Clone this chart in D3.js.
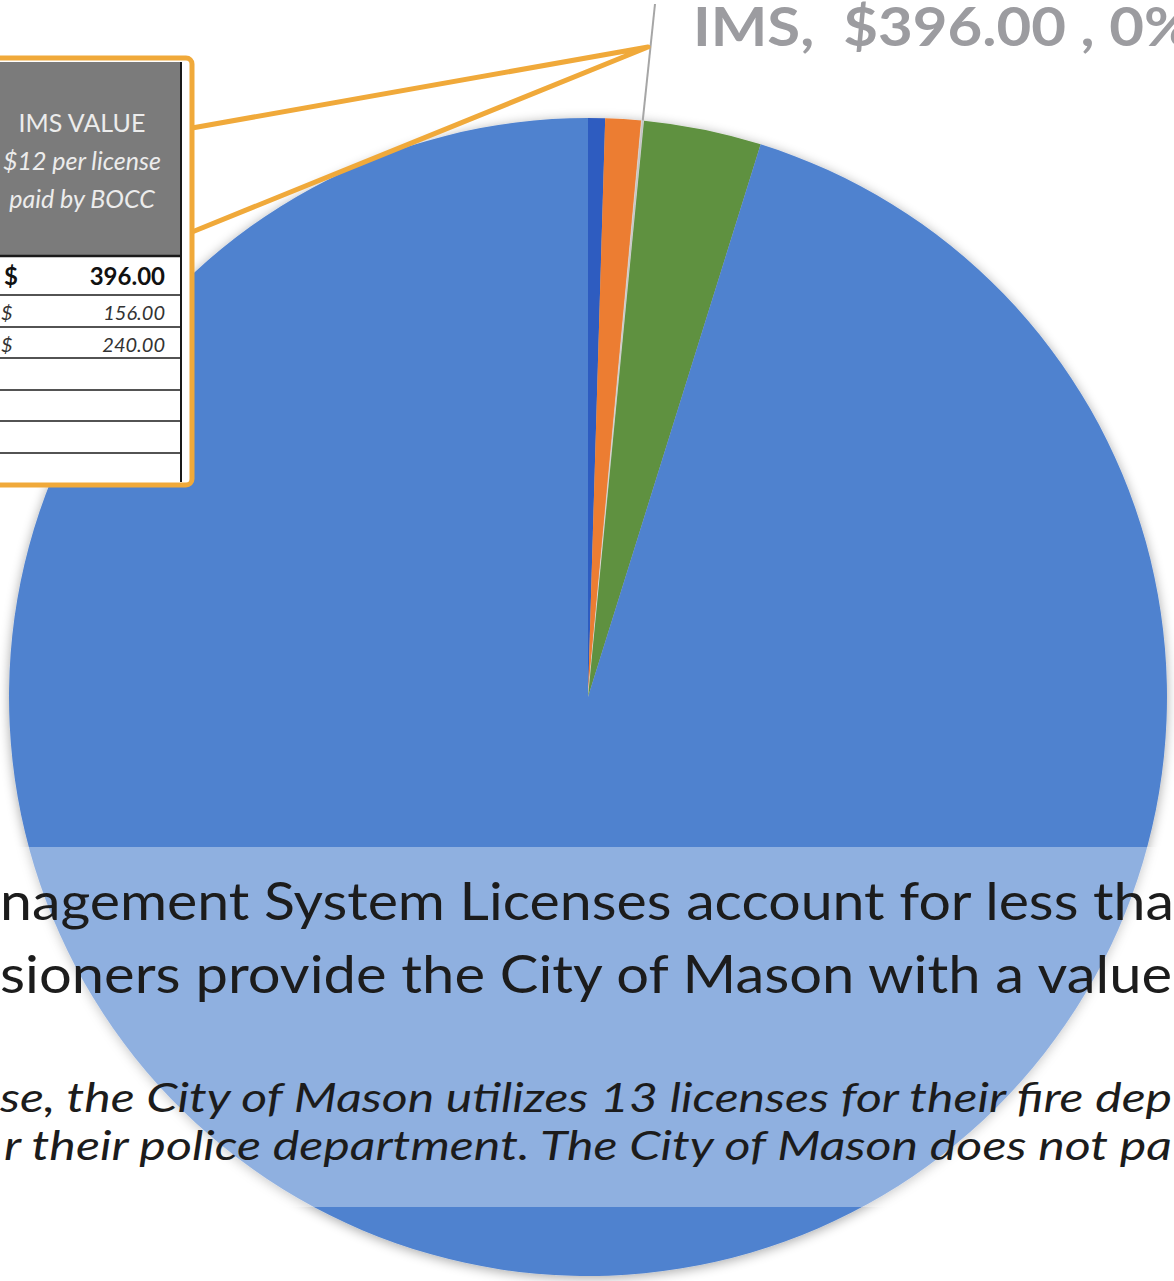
<!DOCTYPE html>
<html>
<head>
<meta charset="utf-8">
<script src="https://cdn.jsdelivr.net/npm/d3@7"></script>
<style>
  html, body { margin: 0; padding: 0; background: #ffffff; overflow: hidden; }
  svg { display: block; }
</style>
</head>
<body>
<div id="chartContainer"></div>
<script>
// pie slices, clockwise from 12 o'clock
const sliceNames = ["Slice A", "Slice B", "IMS", "Slice C", "Slice D"];
const sliceValues = [2700, 5700, 396, 18700, 543000];
const sliceColors = ["#2f5cc0", "#ec7d30", "#c4c4c4", "#5e9140", "#5082cf"];

// callout label for the IMS slice
const imsLabel = "IMS,  $396.00 , 0%";

// table inside the orange callout
const tableHeader = ["IMS VALUE", "$12 per license", "paid by BOCC"];
const tableDollar = ["$", "$", "$", "", "", ""];
const tableAmounts = ["396.00", "156.00", "240.00", "", "", ""];

// text on the band at the bottom
const bandLines = [
  "nagement System Licenses account for less tha",
  "sioners provide the City of Mason with a value"
];
const bandItalicLines = [
  "se, the City of Mason utilizes 13 licenses for their fire dep",
  "r their police department. The City of Mason does not pa"
];

const W = 1174, H = 1281;
const cx = 588, cy = 697, radius = 579;
const font = "Lato, Carlito, 'Open Sans', sans-serif";

const svg = d3.select("#chartContainer")
  .append("svg")
  .attr("width", W)
  .attr("height", H);

const defs = svg.append("defs");
const shadow = defs.append("filter").attr("id", "pieShadow")
  .attr("x", "-10%").attr("y", "-10%").attr("width", "120%").attr("height", "120%");
shadow.append("feGaussianBlur").attr("in", "SourceAlpha").attr("stdDeviation", 6).attr("result", "blur");
shadow.append("feOffset").attr("in", "blur").attr("dx", 0).attr("dy", 2).attr("result", "off");
shadow.append("feComponentTransfer").attr("in", "off").attr("result", "soft")
  .append("feFuncA").attr("type", "linear").attr("slope", 0.35);
const merge = shadow.append("feMerge");
merge.append("feMergeNode").attr("in", "soft");
merge.append("feMergeNode").attr("in", "SourceGraphic");

// ---- pie ----
const pie = d3.pie().sort(null).value(d => d);
const arcs = pie(sliceValues);
const arc = d3.arc().innerRadius(0).outerRadius(radius);

const pieG = svg.append("g")
  .attr("transform", `translate(${cx}, ${cy})`)
  .attr("filter", "url(#pieShadow)");

pieG.selectAll("path")
  .data(arcs)
  .enter()
  .append("path")
  .attr("d", arc)
  .attr("fill", (d, i) => sliceColors[i])
  .attr("stroke", (d, i) => sliceNames[i] === "IMS" ? "#e0e0e0" : "none")
  .attr("stroke-width", 0.6);

// leader line from IMS label down to its slice
const imsArc = arcs[sliceNames.indexOf("IMS")];
const imsMid = (imsArc.startAngle + imsArc.endAngle) / 2;
svg.append("line")
  .attr("x1", 655).attr("y1", 4)
  .attr("x2", cx + radius * Math.sin(imsMid))
  .attr("y2", cy - radius * Math.cos(imsMid))
  .attr("stroke", "#a6a6a6")
  .attr("stroke-width", 2);

svg.append("text")
  .attr("x", 693)
  .attr("y", 46)
  .attr("font-family", font)
  .attr("font-weight", "bold")
  .attr("font-size", "54px")
  .attr("fill", "#9c9ca0")
  .attr("textLength", 500)
  .attr("lengthAdjust", "spacingAndGlyphs")
  .style("white-space", "pre")
  .text(imsLabel);

// ---- callout box with the table ----
const tip = [648, 47];
const boxRight = 192, boxTop = 58, boxBottom = 485;

svg.append("path")
  .attr("d", `M${boxRight},128 L${tip[0]},${tip[1]} L${boxRight},232`)
  .attr("fill", "none")
  .attr("stroke", "#f0a93a")
  .attr("stroke-width", 5)
  .attr("stroke-linejoin", "round");

svg.append("rect")
  .attr("x", -20).attr("y", boxTop)
  .attr("width", boxRight + 20).attr("height", boxBottom - boxTop)
  .attr("rx", 6)
  .attr("fill", "#ffffff")
  .attr("stroke", "#f0a93a")
  .attr("stroke-width", 5);

const tableRight = 181;
const headerTop = 62, headerBottom = 256;
svg.append("rect")
  .attr("x", -20).attr("y", headerTop)
  .attr("width", tableRight + 20).attr("height", headerBottom - headerTop)
  .attr("fill", "#7b7b7b");

const headerY = d3.scalePoint().domain(tableHeader).range([132, 208]);
svg.selectAll(".hdr")
  .data(tableHeader)
  .enter()
  .append("text")
  .attr("class", "hdr")
  .attr("x", 82)
  .attr("y", d => headerY(d))
  .attr("text-anchor", "middle")
  .attr("font-family", font)
  .attr("font-size", "25px")
  .attr("font-style", (d, i) => i === 0 ? "normal" : "italic")
  .attr("fill", "#ececec")
  .text(d => d);

// row boundaries
const rowEdges = [256, 295, 327, 358, 390, 421, 453];
svg.selectAll(".rowline")
  .data(rowEdges)
  .enter()
  .append("line")
  .attr("x1", -20).attr("x2", tableRight)
  .attr("y1", d => d).attr("y2", d => d)
  .attr("stroke", "#1a1a1a")
  .attr("stroke-width", (d, i) => i === 0 ? 2.5 : 1.6);

svg.append("line")
  .attr("x1", tableRight).attr("x2", tableRight)
  .attr("y1", headerTop).attr("y2", boxBottom - 3)
  .attr("stroke", "#1a1a1a")
  .attr("stroke-width", 2);

const rowBase = [285, 320, 352];
tableAmounts.forEach((amt, i) => {
  if (!amt) return;
  const bold = i === 0;
  svg.append("text")
    .attr("x", bold ? 4 : 1)
    .attr("y", rowBase[i])
    .attr("font-family", font)
    .attr("font-size", bold ? "24px" : "20px")
    .attr("font-weight", bold ? "bold" : "normal")
    .attr("font-style", bold ? "normal" : "italic")
    .attr("fill", bold ? "#111" : "#333")
    .text(tableDollar[i]);
  svg.append("text")
    .attr("x", 165)
    .attr("y", rowBase[i])
    .attr("text-anchor", "end")
    .attr("font-family", font)
    .attr("font-size", bold ? "24px" : "20px")
    .attr("font-weight", bold ? "bold" : "normal")
    .attr("font-style", bold ? "normal" : "italic")
    .attr("fill", bold ? "#111" : "#333")
    .text(amt);
});

// ---- translucent band with the text ----
svg.append("rect")
  .attr("x", 0).attr("y", 847)
  .attr("width", W).attr("height", 360)
  .attr("fill", "#ffffff")
  .attr("fill-opacity", 0.37);

const bandBase = [920, 993];
const bandSpan = [1174, 1172];
svg.selectAll(".band")
  .data(bandLines)
  .enter()
  .append("text")
  .attr("class", "band")
  .attr("x", 0)
  .attr("y", (d, i) => bandBase[i])
  .attr("font-family", font)
  .attr("font-size", "52px")
  .attr("fill", "#1c1c1c")
  .attr("textLength", (d, i) => bandSpan[i])
  .attr("lengthAdjust", "spacingAndGlyphs")
  .text(d => d);

const italicBase = [1112, 1160];
const italicX = [0, 4];
const italicSpan = [1172, 1168];
svg.selectAll(".bandi")
  .data(bandItalicLines)
  .enter()
  .append("text")
  .attr("class", "bandi")
  .attr("x", (d, i) => italicX[i])
  .attr("y", (d, i) => italicBase[i])
  .attr("font-family", font)
  .attr("font-size", "40px")
  .attr("font-style", "italic")
  .attr("fill", "#1c1c1c")
  .attr("textLength", (d, i) => italicSpan[i])
  .attr("lengthAdjust", "spacingAndGlyphs")
  .text(d => d);
</script>
</body>
</html>
